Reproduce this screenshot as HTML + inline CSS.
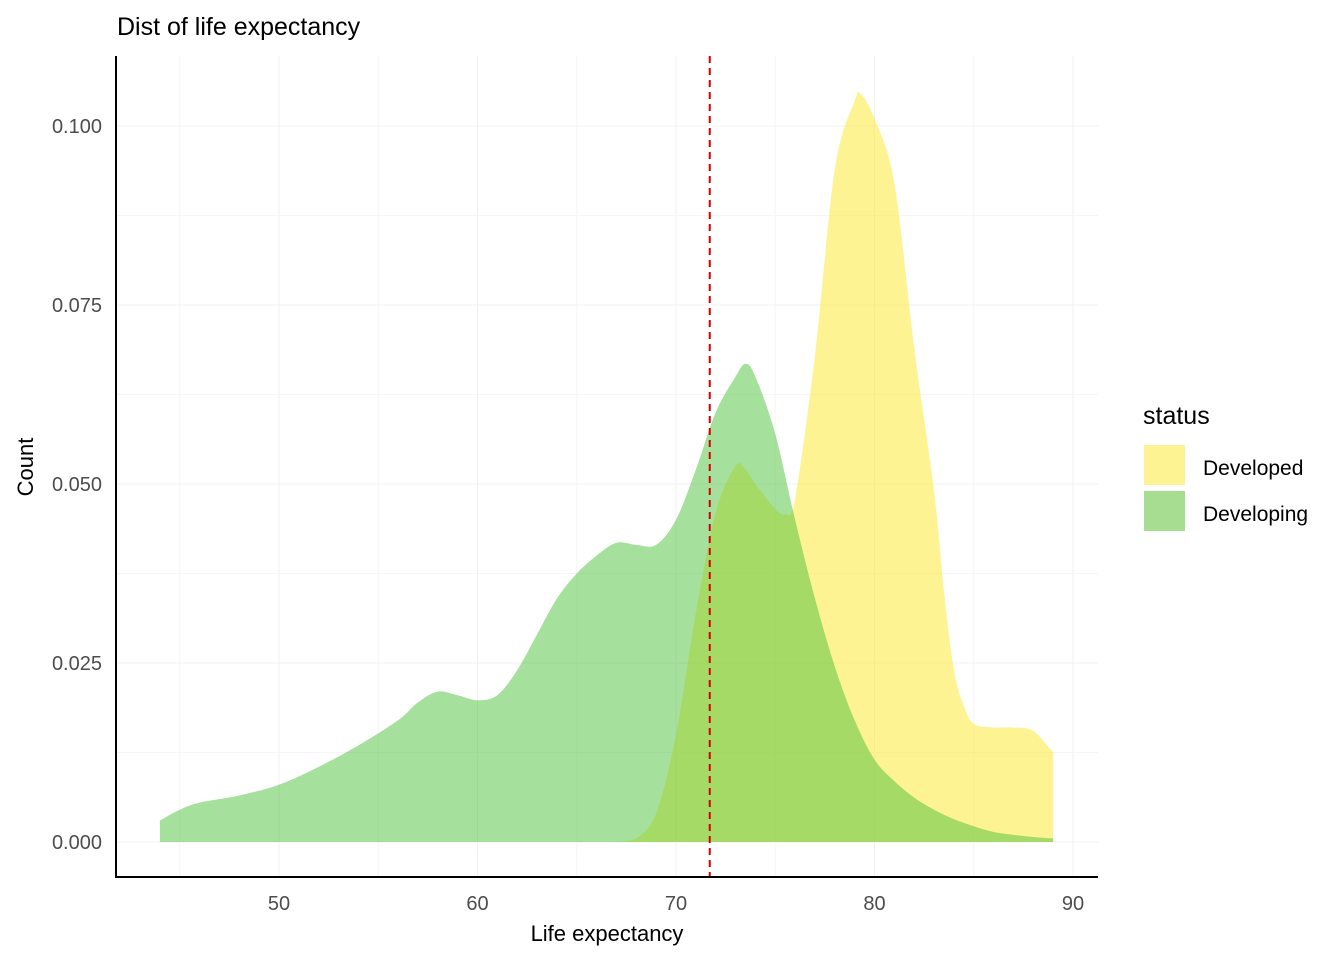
<!DOCTYPE html>
<html><head><meta charset="utf-8"><style>
body{margin:0;background:#fff;font-family:"Liberation Sans",sans-serif;}
svg text{font-family:"Liberation Sans",sans-serif;}
</style></head><body>
<svg id="chart" width="1344" height="960" xmlns="http://www.w3.org/2000/svg">
<text x="117" y="35" font-size="25" fill="#000">Dist of life expectancy</text>
<g id="grid"></g>
<g id="marks"></g>
<g id="axes"></g>
<text x="607" y="941" font-size="22" text-anchor="middle" fill="#000">Life expectancy</text>
<text transform="translate(33,467) rotate(-90)" font-size="22" text-anchor="middle" fill="#000">Count</text>
<g>
<text x="1143" y="424" font-size="25" fill="#000">status</text>
<rect x="1144" y="445" width="41" height="40" fill="#fef392"/>
<text x="1203" y="475" font-size="21" fill="#000">Developed</text>
<rect x="1144" y="491" width="41" height="40" fill="#a6dd91"/>
<text x="1203" y="521" font-size="21" fill="#000">Developing</text>
</g>
</svg>
<script>
const xTicks=[50,60,70,80,90];
const yTicks=[0,0.025,0.05,0.075,0.1];
const yTickLabels=["0.000","0.025","0.050","0.075","0.100"];
const developingX=[44,45,46,48,50,52,54,56,57,58,59,60,61,62,63,64,65,66,67,68,69,70,71,72,73,73.5,74,75,76,77,78,79,80,81,82,83,84,85,86,87,88,89];
const developingY=[0.003,0.0045,0.0055,0.0065,0.008,0.0105,0.0135,0.017,0.0195,0.021,0.0205,0.0198,0.0205,0.024,0.029,0.034,0.0375,0.040,0.0418,0.0415,0.0415,0.045,0.052,0.060,0.065,0.0668,0.065,0.057,0.045,0.034,0.0245,0.017,0.0115,0.0085,0.0062,0.0045,0.0032,0.0022,0.0014,0.001,0.0007,0.0005];
const developedX=[67,68,69,70,71,72,73,73.5,74,75,75.5,76,77,78,79,79.3,80,81,82,83,83.5,84,84.5,85,86,87,88,89];
const developedY=[0,0.0005,0.004,0.015,0.032,0.046,0.0525,0.052,0.050,0.0465,0.0458,0.048,0.068,0.094,0.1035,0.1045,0.101,0.092,0.069,0.049,0.035,0.024,0.019,0.0165,0.016,0.016,0.0155,0.0125];
const meanLine=71.7;
const NS="http://www.w3.org/2000/svg";
const X=v=>279+(v-50)*19.85;
const Y=v=>842-v*7160;
const L=116,R=1098,T=56,B=877;
function mk(tag,attrs,parent){const e=document.createElementNS(NS,tag);for(const k in attrs)e.setAttribute(k,attrs[k]);parent.appendChild(e);return e;}
const grid=document.getElementById('grid'),marks=document.getElementById('marks'),axes=document.getElementById('axes');
[45,55,65,75,85].forEach(v=>{const l=mk('line',{x1:X(v),x2:X(v),y1:T,y2:B,stroke:'#f5f5f5','stroke-width':1},grid);});
xTicks.forEach(v=>{const l=mk('line',{x1:X(v),x2:X(v),y1:T,y2:B,stroke:'#f0f0f0','stroke-width':1},grid);
const t=mk('text',{x:X(v),y:910,'font-size':20,'text-anchor':'middle',fill:'#4d4d4d'},axes);t.textContent=v;});
[0.0125,0.0375,0.0625,0.0875].forEach(v=>{const l=mk('line',{x1:L,x2:R,y1:Y(v),y2:Y(v),stroke:'#f5f5f5','stroke-width':1},grid);});
yTicks.forEach((v,i)=>{const l=mk('line',{x1:L,x2:R,y1:Y(v),y2:Y(v),stroke:'#f0f0f0','stroke-width':1},grid);
const t=mk('text',{x:102,y:Y(v)+7,'font-size':20,'text-anchor':'end',fill:'#4d4d4d'},axes);t.textContent=yTickLabels[i];});
function smooth(pts){let d='';for(let i=0;i<pts.length-1;i++){const p0=pts[Math.max(0,i-1)],p1=pts[i],p2=pts[i+1],p3=pts[Math.min(pts.length-1,i+2)];
const c1=[p1[0]+(p2[0]-p0[0])/6,p1[1]+(p2[1]-p0[1])/6],c2=[p2[0]-(p3[0]-p1[0])/6,p2[1]-(p3[1]-p1[1])/6];
d+=` C${c1[0]},${Math.min(Y(0),c1[1])} ${c2[0]},${Math.min(Y(0),c2[1])} ${p2[0]},${p2[1]}`;}return d;}
function area(xs,ys,fill,name){const pts=xs.map((x,i)=>[X(x),Y(ys[i])]);
let d='M'+X(xs[0])+','+Y(0)+' L'+pts[0][0]+','+pts[0][1]+smooth(pts)+' L'+X(xs[xs.length-1])+','+Y(0)+' Z';
const p=mk('path',{d:d,fill:fill,'fill-opacity':0.5,stroke:'none'},marks);}
area(developedX,developedY,'#fde725','density-developed');
area(developingX,developingY,'#4cc13a','density-developing');
const ml=mk('line',{x1:X(meanLine),x2:X(meanLine),y1:T,y2:B,stroke:'#d40000','stroke-width':2,'stroke-dasharray':'7,5'},marks);

const ax=mk('path',{d:`M${L},${T} L${L},${B} L${R},${B}`,stroke:'#000','stroke-width':2,fill:'none'},axes);

</script>
</body></html>
